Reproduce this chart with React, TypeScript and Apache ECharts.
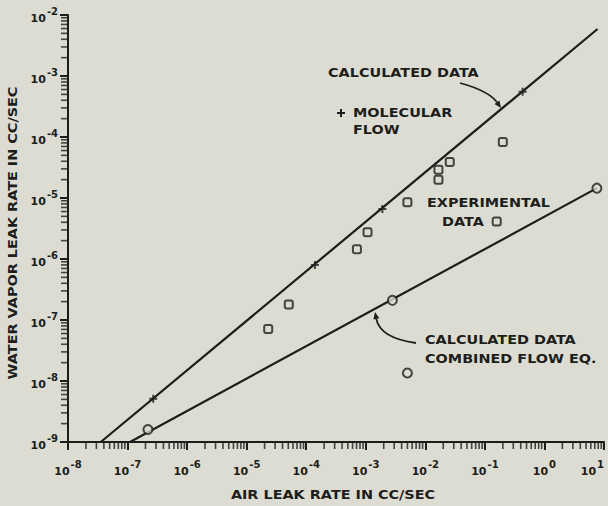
import React, { useEffect, useRef } from "react";
import * as echarts from "echarts";

const INK = "#1d1d1b";
const PAPER = "#dcdcd2";
const FONT = "'DejaVu Sans', 'Liberation Sans', sans-serif";

// Axis ranges (cc/sec)
const X_MIN = 1e-8;
const X_MAX = 10;
const Y_MIN = 1e-9;
const Y_MAX = 1e-2;

// Decade exponents bounding the minor ticks
const xDecadeExps = [-8, -7, -6, -5, -4, -3, -2, -1, 0];
const yDecadeExps = [-9, -8, -7, -6, -5, -4, -3];
const minorMultipliers = [2, 3, 4, 5, 6, 7, 8, 9];

// Calculated data, molecular flow: straight line on log-log axes
const molecularLine: [number, number][] = [
  [3.55e-8, 1e-9],
  [7.8, 5.9e-3],
];
// Calculated points along the molecular-flow line
const molecularPoints: [number, number][] = [
  [2.7e-7, 5.1e-9],
  [1.4e-4, 8.0e-7],
  [1.9e-3, 6.6e-6],
  [0.43, 5.5e-4],
];

// Calculated data, combined flow equation
const combinedLine: [number, number][] = [
  [1.1e-7, 1e-9],
  [7.6, 1.45e-5],
];
const combinedPoints: [number, number][] = [
  [2.2e-7, 1.6e-9],
  [2.8e-3, 2.1e-7],
  [7.6, 1.45e-5],
  [5.0e-3, 1.35e-8],
];

// Experimental data
const experimentalPoints: [number, number][] = [
  [2.3e-5, 7.1e-8],
  [5.1e-5, 1.8e-7],
  [7.1e-4, 1.45e-6],
  [1.07e-3, 2.75e-6],
  [5.0e-3, 8.5e-6],
  [0.0166, 2.0e-5],
  [0.0166, 2.9e-5],
  [0.0257, 3.9e-5],
  [0.158, 4.1e-6],
  [0.2, 8.3e-5],
];

const PLUS = "path://M3,0h2v3h3v2h-3v3h-2v-3h-3v-2h3z";

// Log-scale minor tick positions (2..9 within each decade), pinned to the axes
const xMinorTicks: [number, number][] = [];
xDecadeExps.forEach((e) =>
  minorMultipliers.forEach((k) => xMinorTicks.push([k * Math.pow(10, e), Y_MIN]))
);
const yMinorTicks: [number, number][] = [];
yDecadeExps.forEach((e) =>
  minorMultipliers.forEach((k) => yMinorTicks.push([X_MIN, k * Math.pow(10, e)]))
);

const powerLabel = (v: number) => {
  const e = Math.round(Math.log10(v));
  return `{b|10}{s|${e}}`;
};

const labelRich = {
  b: { fontSize: 11, fontWeight: "bold", fontFamily: FONT, color: INK, verticalAlign: "bottom" },
  s: {
    fontSize: 10,
    fontWeight: "bold",
    fontFamily: FONT,
    color: INK,
    verticalAlign: "bottom",
    padding: [0, 0, 8, 1],
  },
};

const textFont = `bold 12px ${FONT}`;
const STRETCH = 1.2;

const label = (text: string, x: number, y: number, extra: any = {}) => ({
  type: "text",
  x,
  y,
  scaleX: STRETCH,
  silent: true,
  style: { text, font: textFont, fill: INK, align: "left", verticalAlign: "middle" },
  ...extra,
});

// Arrow: quadratic curve with a filled head at its end
const arrow = (x1: number, y1: number, cx: number, cy: number, x2: number, y2: number) => {
  const dx = x2 - cx;
  const dy = y2 - cy;
  const len = Math.hypot(dx, dy) || 1;
  const ux = dx / len;
  const uy = dy / len;
  const hl = 7;
  const hw = 3;
  const bx = x2 - ux * hl;
  const by = y2 - uy * hl;
  return [
    {
      type: "bezierCurve",
      silent: true,
      shape: { x1, y1, cpx1: cx, cpy1: cy, x2: bx, y2: by },
      style: { stroke: INK, lineWidth: 1.8, fill: "none" },
    },
    {
      type: "polygon",
      silent: true,
      shape: {
        points: [
          [x2, y2],
          [bx - uy * hw, by + ux * hw],
          [bx + uy * hw, by - ux * hw],
        ],
      },
      style: { fill: INK },
    },
  ];
};

const annotations = [
  label("CALCULATED DATA", 328, 73),
  label("MOLECULAR", 353, 113),
  label("FLOW", 353, 130),
  { type: "rect", silent: true, shape: { x: 337, y: 112, width: 8, height: 2 }, style: { fill: INK } },
  { type: "rect", silent: true, shape: { x: 340, y: 109, width: 2, height: 8 }, style: { fill: INK } },
  label("EXPERIMENTAL", 427, 203),
  label("DATA", 442, 222),
  label("CALCULATED DATA", 425, 340),
  label("COMBINED FLOW EQ.", 425, 359),
  label("AIR LEAK RATE IN CC/SEC", 333, 495, {
    style: { text: "AIR LEAK RATE IN CC/SEC", font: textFont, fill: INK, align: "center", verticalAlign: "middle" },
  }),
  label("WATER VAPOR LEAK RATE IN CC/SEC", 13, 233, {
    rotation: Math.PI / 2,
    style: {
      text: "WATER VAPOR LEAK RATE IN CC/SEC",
      font: textFont,
      fill: INK,
      align: "center",
      verticalAlign: "middle",
    },
  }),
  ...arrow(460, 83, 489, 91, 501, 108),
  ...arrow(416, 343, 380, 338, 375, 312),
];

const axisCommon = {
  type: "log",
  logBase: 10,
  interval: 1,
  axisLine: { show: true, lineStyle: { color: INK, width: 2 } },
  axisTick: { show: true, inside: false, length: 8, lineStyle: { color: INK, width: 2 } },
  splitLine: { show: false },
  minorTick: { show: false },
  minorSplitLine: { show: false },
};

export default function App() {
  const ref = useRef<HTMLDivElement>(null);

  useEffect(() => {
    if (!ref.current) return;
    const chart = echarts.init(ref.current, null, { renderer: "svg" });
    chart.setOption({
      animation: false,
      backgroundColor: PAPER,
      grid: { left: 68, right: 4, top: 15, bottom: 64, outerBoundsMode: "none", containLabel: false },
      xAxis: {
        ...axisCommon,
        min: X_MIN,
        max: X_MAX,
        axisLabel: {
          margin: 17,
          formatter: powerLabel,
          rich: labelRich,
          showMinLabel: true,
          showMaxLabel: true,
          hideOverlap: false,
          alignMaxLabel: "right",
        },
      },
      yAxis: {
        ...axisCommon,
        min: Y_MIN,
        max: Y_MAX,
        axisLabel: {
          margin: 10,
          formatter: powerLabel,
          rich: labelRich,
          showMinLabel: true,
          showMaxLabel: true,
          hideOverlap: false,
        },
      },
      graphic: annotations,
      series: [
        {
          name: "x minor ticks",
          type: "scatter",
          data: xMinorTicks,
          symbol: "rect",
          symbolSize: [1.6, 6],
          symbolOffset: [0, 4],
          clip: false,
          silent: true,
          itemStyle: { color: INK },
        },
        {
          name: "y minor ticks",
          type: "scatter",
          data: yMinorTicks,
          symbol: "rect",
          symbolSize: [6, 1.6],
          symbolOffset: [-4, 0],
          clip: false,
          silent: true,
          itemStyle: { color: INK },
        },
        {
          name: "Calculated data (molecular flow)",
          type: "line",
          data: molecularLine,
          symbol: "none",
          lineStyle: { color: INK, width: 2.2 },
        },
        {
          name: "Calculated data (combined flow eq.)",
          type: "line",
          data: combinedLine,
          symbol: "none",
          lineStyle: { color: INK, width: 2.2 },
        },
        {
          name: "Molecular flow points",
          type: "scatter",
          data: molecularPoints,
          symbol: PLUS,
          symbolSize: 8,
          itemStyle: { color: INK },
        },
        {
          name: "Combined flow points",
          type: "scatter",
          data: combinedPoints,
          symbol: "circle",
          symbolSize: 9,
          itemStyle: { color: PAPER, borderColor: INK, borderWidth: 2 },
          z: 5,
        },
        {
          name: "Experimental data",
          type: "scatter",
          data: experimentalPoints,
          symbol: "roundRect",
          symbolSize: 8,
          itemStyle: { color: PAPER, borderColor: INK, borderWidth: 2 },
          z: 5,
        },
      ],
    });

    return () => chart.dispose();
  }, []);

  return (
    <div
      ref={ref}
      style={{ position: "fixed", left: 0, top: 0, width: 608, height: 506, background: PAPER }}
    />
  );
}
